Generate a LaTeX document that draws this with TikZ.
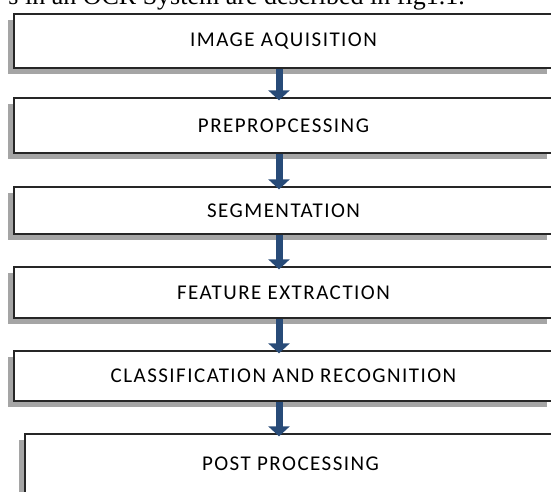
\documentclass[tikz,border=0pt]{standalone}
\usepackage{fontspec}
\newfontfamily\stagefont[LetterSpace=7]{Carlito}
\newfontfamily\captionfont{Liberation Serif}
\usetikzlibrary{arrows.meta, shadows}
\definecolor{arrowblue}{RGB}{40, 75, 120}
\definecolor{shadowgray}{RGB}{165, 165, 165}

\begin{document}
\begin{tikzpicture}[x=1pt, y=-1pt,
  stage/.style={draw=black!85, line width=1.3pt, fill=white, inner sep=0pt,
                font=\stagefont\fontsize{21}{23}\selectfont,
                minimum width=539pt,
                drop shadow={shadow xshift=-6pt, shadow yshift=-6pt,
                             fill=shadowgray, opacity=1}},
  flow/.style={line width=7pt, arrowblue, shorten >=-3pt,
               -{Triangle[width=21pt, length=10pt]}},
]
\useasboundingbox (0, 0) rectangle (551, 491);
\clip (0, 0) rectangle (551, 491);

% Caption line (cut at the top)
\node[font=\captionfont\fontsize{26}{28}\selectfont, anchor=base east, inner sep=0pt]
  (caption) at (465, 4) {s in an OCR System are described in fig1.1.};

% Stages
\node[stage, minimum height=54pt] (acq) at (283.5, 41) {IMAGE AQUISITION};
\node[stage, minimum height=55pt] (pre) at (283.5, 125.5) {PREPROPCESSING};
\node[stage, minimum height=47pt] (seg) at (283.5, 210.5) {SEGMENTATION};
\node[stage, minimum height=51pt] (feat) at (283.5, 292.5) {FEATURE EXTRACTION};
\node[stage, minimum height=50pt] (cls) at (283.5, 376) {CLASSIFICATION AND RECOGNITION};
\node[stage, minimum width=531pt, minimum height=60pt] (post) at (290.5, 464) {POST PROCESSING};

% Arrows
\draw[flow] ([xshift=-4.5pt]acq.south) -- ([xshift=-4.5pt]acq.south |- pre.north);
\draw[flow] ([xshift=-4.5pt]pre.south) -- ([xshift=-4.5pt]pre.south |- seg.north);
\draw[flow] ([xshift=-4.5pt]seg.south) -- ([xshift=-4.5pt]seg.south |- feat.north);
\draw[flow] ([xshift=-4.5pt]feat.south) -- ([xshift=-4.5pt]feat.south |- cls.north);
\draw[flow] ([xshift=-4.5pt]cls.south) -- ([xshift=-4.5pt]cls.south |- post.north);
\end{tikzpicture}
\end{document}
